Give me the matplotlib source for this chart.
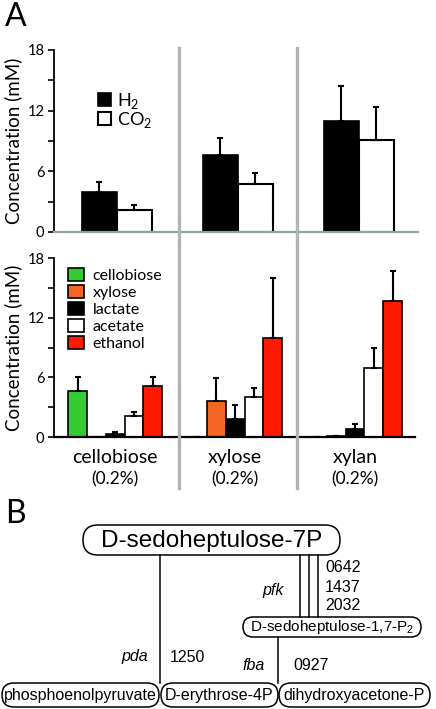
import matplotlib
matplotlib.use("Agg")
import matplotlib.pyplot as plt
import numpy as np
from matplotlib.patches import FancyBboxPatch
from matplotlib.lines import Line2D

plt.rcParams['font.family'] = ['Lato', 'DejaVu Sans']

# substrate groups
groups = ['cellobiose', 'xylose', 'xylan']
group_sub = ['(0.2%)', '(0.2%)', '(0.2%)']

# gas production (mM)
h2 = [4.0, 7.6, 11.0]
h2_err = [0.95, 1.7, 3.4]
co2 = [2.2, 4.7, 9.1]
co2_err = [0.5, 1.15, 3.3]

# soluble products (mM)
products = ['cellobiose', 'xylose', 'lactate', 'acetate', 'ethanol']
prod_colors = ['#33cc33', '#f26522', '#000000', '#ffffff', '#ff1a00']
cellobiose = [4.6, 0.05, 0.05]
cellobiose_err = [1.4, 0.0, 0.0]
xylose = [0.05, 3.65, 0.08]
xylose_err = [0.0, 2.25, 0.0]
lactate = [0.35, 1.8, 0.85]
lactate_err = [0.15, 1.4, 0.45]
acetate = [2.1, 4.0, 6.9]
acetate_err = [0.45, 0.95, 2.1]
ethanol = [5.1, 10.0, 13.7]
ethanol_err = [0.9, 6.0, 3.0]

W, H = 436, 709
fig = plt.figure(figsize=(W / 100, H / 100), dpi=100)


def ax_px(x0, y0, x1, y1):
    # axes from pixel box (top-left origin)
    return fig.add_axes([x0 / W, 1 - y1 / H, (x1 - x0) / W, (y1 - y0) / H])


def style_axis(ax, bottom_color):
    ax.set_ylim(0, 18)
    ax.set_yticks([0, 6, 12, 18])
    ax.set_yticks([3, 9, 15], minor=True)
    ax.tick_params(axis='y', which='both', direction='out', length=4, width=1.2, labelsize=10.5, pad=3)
    ax.set_xticks([])
    for s in ['top', 'right']:
        ax.spines[s].set_visible(False)
    ax.spines['left'].set_linewidth(1.3)
    ax.spines['bottom'].set_linewidth(1.6)
    ax.spines['bottom'].set_color(bottom_color)
    ax.set_ylabel('Concentration (mM)', fontsize=13.5, labelpad=4)


x = np.arange(len(groups))

# --- top panel: gases
ax1 = ax_px(54, 50, 418, 232)
ax1.set_xlim(-0.52, 2.49)
w = 0.29
ax1.bar(x - w / 2, h2, w, color='black', edgecolor='black', linewidth=1.2, label='H$_\\mathregular{2}$',
        yerr=[np.zeros(3), h2_err], error_kw=dict(elinewidth=1.5, capsize=2.5, capthick=1.5, ecolor='black'))
ax1.bar(x + w / 2, co2, w, color='white', edgecolor='black', linewidth=1.5, label='CO$_\\mathregular{2}$',
        yerr=[np.zeros(3), co2_err], error_kw=dict(elinewidth=1.5, capsize=2.5, capthick=1.5, ecolor='black'))
style_axis(ax1, '#8fa3a0')
ax1.legend(loc='upper left', bbox_to_anchor=(0.12, 0.775), frameon=False, fontsize=13,
           handlelength=0.75, handleheight=0.75, handletextpad=0.3, labelspacing=-0.05,
           borderpad=0, borderaxespad=0)

# --- bottom panel: fermentation products
ax2 = ax_px(54, 258, 415, 437)
ax2.set_xlim(-0.51, 2.5)
bw = 0.157
vals = [cellobiose, xylose, lactate, acetate, ethanol]
errs = [cellobiose_err, xylose_err, lactate_err, acetate_err, ethanol_err]
for i, (name, v, e, c) in enumerate(zip(products, vals, errs, prod_colors)):
    ax2.bar(x + (i - 2) * bw, v, bw, color=c, edgecolor='black', linewidth=1.2, label=name,
            yerr=[np.zeros(3), e], error_kw=dict(elinewidth=1.5, capsize=2.5, capthick=1.5, ecolor='black'))
style_axis(ax2, 'black')
ax2.legend(loc='upper left', bbox_to_anchor=(0.04, 0.945), frameon=False, fontsize=11.5,
           handlelength=1.0, handleheight=0.9, handletextpad=0.5, labelspacing=0.12,
           borderpad=0, borderaxespad=0)
for xi, g, s in zip(x, groups, group_sub):
    ax2.text(xi, -1.2, g, ha='center', va='top', fontsize=14)
    ax2.text(xi, -3.45, s, ha='center', va='top', fontsize=12.5)

# grey separators spanning both panels
for xs in [179, 297]:
    fig.add_artist(Line2D([xs / W, xs / W], [1 - 48 / H, 1 - 488 / H], color='#b3b3b3', lw=2.4,
                          transform=fig.transFigure))

fig.text(5 / W, 1 - 17 / H, 'A', fontsize=23, va='center', ha='left')
fig.text(5 / W, 1 - 514 / H, 'B', fontsize=23, va='center', ha='left')

# --- panel B: pathway diagram in pixel coordinates
axd = fig.add_axes([0, 0, 1, 1], zorder=-1)
axd.set_xlim(0, W)
axd.set_ylim(H, 0)
axd.axis('off')
hel = ['Liberation Sans', 'DejaVu Sans']


def pill(x0, x1, y0, y1, label, size):
    h = y1 - y0
    axd.add_patch(FancyBboxPatch((x0, y0), x1 - x0, h, boxstyle='round,pad=0,rounding_size=%f' % (h / 2),
                                 fc='white', ec='black', lw=1.1))
    axd.text((x0 + x1) / 2, (y0 + y1) / 2 + 0.5, label, ha='center', va='center', fontsize=size, family=hel)


def vline(xv, y0, y1):
    axd.plot([xv, xv], [y0, y1], color='black', lw=1.1)


vline(160, 555, 683)
for xv in [300, 309, 318]:
    vline(xv, 555, 617)
vline(278, 637, 683)

pill(83, 340, 525, 555, 'D-sedoheptulose-7P', 17.5)
pill(243, 421, 617, 637, 'D-sedoheptulose-1,7-P$_\\mathregular{2}$', 11)
pill(2, 159, 683, 707, 'phosphoenolpyruvate', 11.5)
pill(161, 278, 683, 707, 'D-erythrose-4P', 11.5)
pill(279, 430, 683, 707, 'dihydroxyacetone-P', 11.5)

for yy, num in zip([568, 587, 605], ['0642', '1437', '2032']):
    axd.text(325, yy, num, ha='left', va='center', fontsize=11.5, family=hel)
axd.text(273, 590, 'pfk', ha='center', va='center', fontsize=11.5, style='italic', family=hel)
axd.text(135, 657, 'pda', ha='center', va='center', fontsize=11.5, style='italic', family=hel)
axd.text(170, 657, '1250', ha='left', va='center', fontsize=11.5, family=hel)
axd.text(254, 665, 'fba', ha='center', va='center', fontsize=11.5, style='italic', family=hel)
axd.text(293, 665, '0927', ha='left', va='center', fontsize=11.5, family=hel)

fig.savefig('out.png', dpi=100)
